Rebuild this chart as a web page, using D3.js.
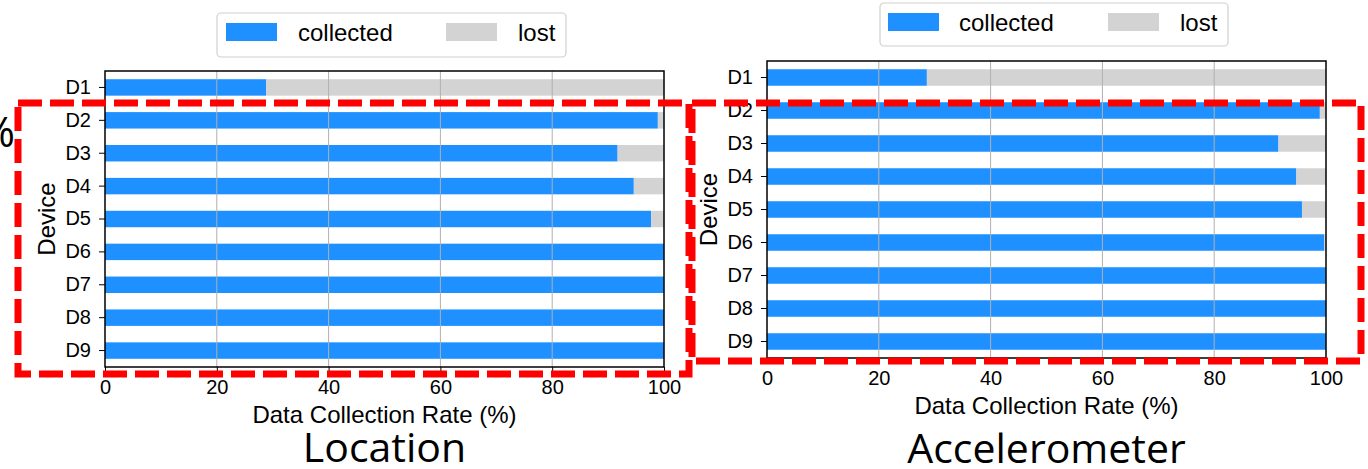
<!DOCTYPE html>
<html lang="en">
<head>
<meta charset="utf-8">
<title>Data Collection Rate</title>
<script src="https://d3js.org/d3.v7.min.js"></script>
<style>
  body { margin: 0; background: #fff; }
  text { font-family: "Liberation Sans", Arial, sans-serif; fill: #000; }
  text.title { font-family: "Open Sans", "Noto Sans", sans-serif; }
</style>
</head>
<body>
<script>
const devices = ["D1", "D2", "D3", "D4", "D5", "D6", "D7", "D8", "D9"]
const locationCollected = [28.8, 98.9, 91.7, 94.6, 97.7, 100, 100, 100, 100]
const accelCollected = [28.6, 98.9, 91.5, 94.7, 95.7, 99.7, 100, 100, 100]
const seriesNames = ["collected", "lost"]
const seriesColors = ["#1e90ff", "#d3d3d3"]
const xTicks = [0, 20, 40, 60, 80, 100]

const W = 1368, H = 469

const svg = d3.select("body").append("svg")
  .attr("width", W)
  .attr("height", H)

// one panel per sensor
const panels = [
  { title: "Location", values: locationCollected, x: 105, y: 71, w: 559, h: 296,
    legend: { x: 217, y: 13, w: 349, h: 44, blue: 226, gray: 446, txt1: 298, txt2: 518, py: 23, base: 41 },
    titleBase: 462 },
  { title: "Accelerometer", values: accelCollected, x: 767, y: 61, w: 559, h: 297,
    legend: { x: 880, y: 3, w: 348, h: 43, blue: 888, gray: 1108, txt1: 959, txt2: 1180, py: 13, base: 31 },
    titleBase: 463 }
]

panels.forEach(p => {
  const x = d3.scaleLinear().domain([0, 100]).range([0, p.w])
  const y = d3.scaleBand().domain(devices).range([0, p.h])
    .paddingInner(0.5).paddingOuter(0.25)

  const rows = devices.map((d, i) => ({ device: d, collected: p.values[i], lost: 100 - p.values[i] }))
  const stacked = d3.stack().keys(seriesNames)(rows)

  const g = svg.append("g").attr("transform", `translate(${p.x},${p.y})`)

  g.selectAll("g.series")
    .data(stacked)
    .join("g")
    .attr("fill", (d, i) => seriesColors[i])
    .selectAll("rect")
    .data(d => d)
    .join("rect")
    .attr("x", d => x(d[0]))
    .attr("y", d => y(d.data.device))
    .attr("width", d => x(d[1]) - x(d[0]))
    .attr("height", y.bandwidth())

  // grid on top of bars, like the original
  g.selectAll("line.grid")
    .data(xTicks.slice(1, -1))
    .join("line")
    .attr("x1", d => x(d)).attr("x2", d => x(d))
    .attr("y1", 0).attr("y2", p.h)
    .attr("stroke", "#b0b0b0")
    .attr("stroke-width", 1)

  const xAxis = g.append("g")
    .attr("transform", `translate(0,${p.h})`)
    .call(d3.axisBottom(x).tickValues(xTicks).tickSize(6).tickPadding(7))
  const yAxis = g.append("g")
    .call(d3.axisLeft(y).tickSize(6).tickPadding(8))
  ;[xAxis, yAxis].forEach(a => {
    a.select(".domain").remove()
    a.selectAll("line").attr("stroke", "#000").attr("stroke-width", 1)
    a.selectAll("text").attr("font-size", 20).attr("font-family", "Liberation Sans, Arial, sans-serif")
  })
  xAxis.selectAll("text").attr("dy", "0.71em")

  g.append("rect")
    .attr("width", p.w).attr("height", p.h)
    .attr("fill", "none").attr("stroke", "#000").attr("stroke-width", 1.5)

  g.append("text")
    .attr("x", p.w / 2).attr("y", p.h + 55.5)
    .attr("text-anchor", "middle").attr("font-size", 24)
    .text("Data Collection Rate (%)")

  g.append("text")
    .attr("transform", `translate(-50,${p.h / 2}) rotate(-90)`)
    .attr("text-anchor", "middle").attr("font-size", 24)
    .text("Device")

  svg.append("text")
    .attr("class", "title")
    .attr("x", p.x + p.w / 2).attr("y", p.titleBase)
    .attr("text-anchor", "middle").attr("font-size", 41)
    .text(p.title)

  // legend
  const L = p.legend
  const lg = svg.append("g")
  lg.append("rect")
    .attr("x", L.x).attr("y", L.y).attr("width", L.w).attr("height", L.h)
    .attr("rx", 4).attr("fill", "#fff").attr("stroke", "#d0d0d0").attr("stroke-width", 1.2)
  ;[L.blue, L.gray].forEach((px, i) => {
    lg.append("rect").attr("x", px).attr("y", L.py).attr("width", 51).attr("height", 18)
      .attr("fill", seriesColors[i])
  })
  ;[L.txt1, L.txt2].forEach((tx, i) => {
    lg.append("text").attr("x", tx).attr("y", L.base).attr("font-size", 24).text(seriesNames[i])
  })
})

// cut-off "%" at the far left
svg.append("text")
  .attr("class", "title")
  .attr("x", 15).attr("y", 147)
  .attr("text-anchor", "end").attr("font-size", 42)
  .text("%")

// red dashed highlight boxes
const boxes = [
  { x: 18, y: 103, w: 671, h: 271 },
  { x: 692, y: 103, w: 669, h: 258 }
]
svg.selectAll("rect.box")
  .data(boxes)
  .join("rect")
  .attr("class", "box")
  .attr("x", d => d.x).attr("y", d => d.y)
  .attr("width", d => d.w).attr("height", d => d.h)
  .attr("fill", "none")
  .attr("stroke", "#ff0000")
  .attr("stroke-width", 7)
  .attr("stroke-dasharray", "24 8")
</script>
</body>
</html>
